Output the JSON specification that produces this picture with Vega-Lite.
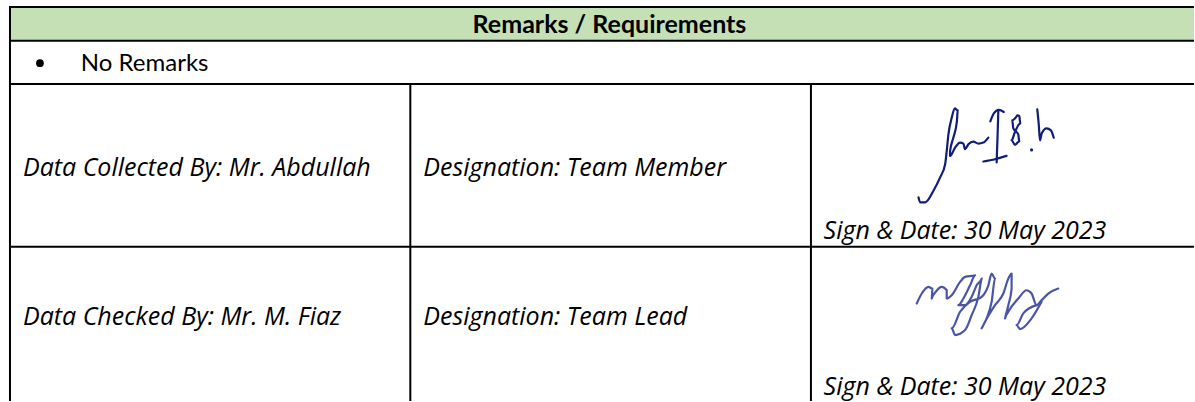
{
  "$schema": "https://vega.github.io/schema/vega-lite/v6.json",
  "width": 1195,
  "height": 402,
  "autosize": {"type": "fit", "contains": "padding"},
  "padding": 0,
  "background": "#ffffff",
  "config": {"view": {"stroke": null}},
  "datasets": {
    "header": [{"x": 10, "x2": 1196, "y": 7, "y2": 41}],
    "borders": [
      {"x": 9, "x2": 1196, "y": 7, "y2": 7},
      {"x": 9, "x2": 1196, "y": 41, "y2": 41},
      {"x": 9, "x2": 1196, "y": 84.3, "y2": 84.3},
      {"x": 9, "x2": 1196, "y": 248, "y2": 248},
      {"x": 10, "x2": 10, "y": 6, "y2": 403},
      {"x": 411, "x2": 411, "y": 84.3, "y2": 403},
      {"x": 812.3, "x2": 812.3, "y": 84.3, "y2": 403}
    ],
    "title": [{"x": 610.5, "y": 33.3, "label": "Remarks / Requirements"}],
    "bullets": [{"x": 40, "y": 63.5}],
    "plain": [{"x": 81, "y": 71.7, "label": "No Remarks"}],
    "italic": [
      {"x": 23, "y": 176.7, "label": "Data Collected By: Mr. Abdullah"},
      {"x": 424, "y": 176.7, "label": "Designation: Team Member"},
      {"x": 825, "y": 240, "label": "Sign & Date: 30 May 2023"},
      {"x": 23, "y": 326.7, "label": "Data Checked By: Mr. M. Fiaz"},
      {"x": 424, "y": 326.7, "label": "Designation: Team Lead"},
      {"x": 825, "y": 397.3, "label": "Sign & Date: 30 May 2023"}
    ],
    "signatures": [
      {"sig": "Abdullah", "stroke": "a1", "o": 1, "x": 920, "y": 198.3},
      {"sig": "Abdullah", "stroke": "a1", "o": 2, "x": 921.7, "y": 203.3},
      {"sig": "Abdullah", "stroke": "a1", "o": 3, "x": 926.7, "y": 203.3},
      {"sig": "Abdullah", "stroke": "a1", "o": 4, "x": 935, "y": 191.7},
      {"sig": "Abdullah", "stroke": "a1", "o": 5, "x": 941.7, "y": 178.3},
      {"sig": "Abdullah", "stroke": "a1", "o": 6, "x": 946.7, "y": 165},
      {"sig": "Abdullah", "stroke": "a1", "o": 7, "x": 948.3, "y": 151.7},
      {"sig": "Abdullah", "stroke": "a1", "o": 8, "x": 950, "y": 135},
      {"sig": "Abdullah", "stroke": "a1", "o": 9, "x": 953.3, "y": 118.3},
      {"sig": "Abdullah", "stroke": "a1", "o": 10, "x": 956.5, "y": 109},
      {"sig": "Abdullah", "stroke": "a1", "o": 11, "x": 959.3, "y": 111},
      {"sig": "Abdullah", "stroke": "a1", "o": 12, "x": 958.5, "y": 122},
      {"sig": "Abdullah", "stroke": "a1", "o": 13, "x": 955, "y": 138.3},
      {"sig": "Abdullah", "stroke": "a1", "o": 14, "x": 951.7, "y": 151.7},
      {"sig": "Abdullah", "stroke": "a1", "o": 15, "x": 951.7, "y": 156.7},
      {"sig": "Abdullah", "stroke": "a1", "o": 16, "x": 956.7, "y": 148.3},
      {"sig": "Abdullah", "stroke": "a1", "o": 17, "x": 961.7, "y": 143.3},
      {"sig": "Abdullah", "stroke": "a1", "o": 18, "x": 965, "y": 144.3},
      {"sig": "Abdullah", "stroke": "a1", "o": 19, "x": 966.7, "y": 150},
      {"sig": "Abdullah", "stroke": "a1", "o": 20, "x": 970, "y": 145},
      {"sig": "Abdullah", "stroke": "a1", "o": 21, "x": 975, "y": 142.3},
      {"sig": "Abdullah", "stroke": "a1", "o": 22, "x": 980, "y": 144.3},
      {"sig": "Abdullah", "stroke": "a1", "o": 23, "x": 985, "y": 143.3},
      {"sig": "Abdullah", "stroke": "a1", "o": 24, "x": 990, "y": 138.3},
      {"sig": "Abdullah", "stroke": "a2", "o": 1, "x": 992, "y": 122},
      {"sig": "Abdullah", "stroke": "a2", "o": 2, "x": 995.5, "y": 114},
      {"sig": "Abdullah", "stroke": "a2", "o": 3, "x": 1000.5, "y": 110.5},
      {"sig": "Abdullah", "stroke": "a2", "o": 4, "x": 1005.5, "y": 112.5},
      {"sig": "Abdullah", "stroke": "a3", "o": 1, "x": 1000, "y": 111},
      {"sig": "Abdullah", "stroke": "a3", "o": 2, "x": 999.3, "y": 135},
      {"sig": "Abdullah", "stroke": "a3", "o": 3, "x": 998.3, "y": 163.3},
      {"sig": "Abdullah", "stroke": "a4", "o": 1, "x": 985, "y": 162.3},
      {"sig": "Abdullah", "stroke": "a4", "o": 2, "x": 996.7, "y": 160},
      {"sig": "Abdullah", "stroke": "a4", "o": 3, "x": 1008.3, "y": 156.7},
      {"sig": "Abdullah", "stroke": "a5", "o": 1, "x": 1019, "y": 116},
      {"sig": "Abdullah", "stroke": "a5", "o": 2, "x": 1014, "y": 121},
      {"sig": "Abdullah", "stroke": "a5", "o": 3, "x": 1015, "y": 129},
      {"sig": "Abdullah", "stroke": "a5", "o": 4, "x": 1020, "y": 135},
      {"sig": "Abdullah", "stroke": "a5", "o": 5, "x": 1021, "y": 142},
      {"sig": "Abdullah", "stroke": "a5", "o": 6, "x": 1016.7, "y": 145.5},
      {"sig": "Abdullah", "stroke": "a5", "o": 7, "x": 1013.3, "y": 141},
      {"sig": "Abdullah", "stroke": "a5", "o": 8, "x": 1016.5, "y": 133},
      {"sig": "Abdullah", "stroke": "a5", "o": 9, "x": 1022, "y": 124},
      {"sig": "Abdullah", "stroke": "a5", "o": 10, "x": 1021, "y": 116.5},
      {"sig": "Abdullah", "stroke": "a5", "o": 11, "x": 1019, "y": 116},
      {"sig": "Abdullah", "stroke": "a6", "o": 1, "x": 1039, "y": 110},
      {"sig": "Abdullah", "stroke": "a6", "o": 2, "x": 1040.5, "y": 125},
      {"sig": "Abdullah", "stroke": "a6", "o": 3, "x": 1041.7, "y": 141},
      {"sig": "Abdullah", "stroke": "a6", "o": 4, "x": 1043.5, "y": 134},
      {"sig": "Abdullah", "stroke": "a6", "o": 5, "x": 1048.3, "y": 129},
      {"sig": "Abdullah", "stroke": "a6", "o": 6, "x": 1052.7, "y": 131},
      {"sig": "Abdullah", "stroke": "a6", "o": 7, "x": 1055.5, "y": 138.5},
      {"sig": "Fiaz", "stroke": "f1", "o": 1, "x": 918.3, "y": 305},
      {"sig": "Fiaz", "stroke": "f1", "o": 2, "x": 923.3, "y": 295},
      {"sig": "Fiaz", "stroke": "f1", "o": 3, "x": 930, "y": 288.3},
      {"sig": "Fiaz", "stroke": "f1", "o": 4, "x": 934, "y": 290},
      {"sig": "Fiaz", "stroke": "f1", "o": 5, "x": 933.3, "y": 300},
      {"sig": "Fiaz", "stroke": "f1", "o": 6, "x": 937.3, "y": 293.3},
      {"sig": "Fiaz", "stroke": "f1", "o": 7, "x": 943.3, "y": 288.3},
      {"sig": "Fiaz", "stroke": "f1", "o": 8, "x": 948.3, "y": 291.7},
      {"sig": "Fiaz", "stroke": "f1", "o": 9, "x": 948.3, "y": 300},
      {"sig": "Fiaz", "stroke": "f1", "o": 10, "x": 953.3, "y": 296.7},
      {"sig": "Fiaz", "stroke": "f1", "o": 11, "x": 961.7, "y": 283.3},
      {"sig": "Fiaz", "stroke": "f1", "o": 12, "x": 966.7, "y": 278.3},
      {"sig": "Fiaz", "stroke": "f1", "o": 13, "x": 976.7, "y": 276.7},
      {"sig": "Fiaz", "stroke": "f1", "o": 14, "x": 971.7, "y": 286.7},
      {"sig": "Fiaz", "stroke": "f1", "o": 15, "x": 965, "y": 300},
      {"sig": "Fiaz", "stroke": "f1", "o": 16, "x": 960, "y": 306.7},
      {"sig": "Fiaz", "stroke": "f1", "o": 17, "x": 966.7, "y": 306.7},
      {"sig": "Fiaz", "stroke": "f1", "o": 18, "x": 973.3, "y": 298.3},
      {"sig": "Fiaz", "stroke": "f1", "o": 19, "x": 978.3, "y": 286.7},
      {"sig": "Fiaz", "stroke": "f1", "o": 20, "x": 983.3, "y": 280},
      {"sig": "Fiaz", "stroke": "f1", "o": 21, "x": 980, "y": 298.3},
      {"sig": "Fiaz", "stroke": "f1", "o": 22, "x": 973.3, "y": 316.7},
      {"sig": "Fiaz", "stroke": "f1", "o": 23, "x": 966.7, "y": 331.7},
      {"sig": "Fiaz", "stroke": "f1", "o": 24, "x": 956.7, "y": 336.7},
      {"sig": "Fiaz", "stroke": "f1", "o": 25, "x": 953.3, "y": 330},
      {"sig": "Fiaz", "stroke": "f1", "o": 26, "x": 961.7, "y": 313.3},
      {"sig": "Fiaz", "stroke": "f1", "o": 27, "x": 971.7, "y": 303.3},
      {"sig": "Fiaz", "stroke": "f1", "o": 28, "x": 983.3, "y": 298.3},
      {"sig": "Fiaz", "stroke": "f1", "o": 29, "x": 990, "y": 286.7},
      {"sig": "Fiaz", "stroke": "f1", "o": 30, "x": 993.3, "y": 275},
      {"sig": "Fiaz", "stroke": "f1", "o": 31, "x": 996.7, "y": 280},
      {"sig": "Fiaz", "stroke": "f1", "o": 32, "x": 993.3, "y": 303.3},
      {"sig": "Fiaz", "stroke": "f1", "o": 33, "x": 988.3, "y": 320},
      {"sig": "Fiaz", "stroke": "f1", "o": 34, "x": 983.3, "y": 330},
      {"sig": "Fiaz", "stroke": "f1", "o": 35, "x": 986.7, "y": 323.3},
      {"sig": "Fiaz", "stroke": "f1", "o": 36, "x": 996.7, "y": 306.7},
      {"sig": "Fiaz", "stroke": "f1", "o": 37, "x": 1005, "y": 295},
      {"sig": "Fiaz", "stroke": "f1", "o": 38, "x": 1010, "y": 280},
      {"sig": "Fiaz", "stroke": "f1", "o": 39, "x": 1013.3, "y": 275},
      {"sig": "Fiaz", "stroke": "f1", "o": 40, "x": 1013.3, "y": 290},
      {"sig": "Fiaz", "stroke": "f1", "o": 41, "x": 1010, "y": 306.7},
      {"sig": "Fiaz", "stroke": "f1", "o": 42, "x": 1006.7, "y": 320},
      {"sig": "Fiaz", "stroke": "f1", "o": 43, "x": 1010, "y": 313.3},
      {"sig": "Fiaz", "stroke": "f1", "o": 44, "x": 1020, "y": 300},
      {"sig": "Fiaz", "stroke": "f1", "o": 45, "x": 1028.3, "y": 291.7},
      {"sig": "Fiaz", "stroke": "f1", "o": 46, "x": 1033.3, "y": 295},
      {"sig": "Fiaz", "stroke": "f1", "o": 47, "x": 1038.3, "y": 306.7},
      {"sig": "Fiaz", "stroke": "f1", "o": 48, "x": 1043.3, "y": 301.7},
      {"sig": "Fiaz", "stroke": "f1", "o": 49, "x": 1050, "y": 295},
      {"sig": "Fiaz", "stroke": "f1", "o": 50, "x": 1060, "y": 290},
      {"sig": "Fiaz", "stroke": "f2", "o": 1, "x": 1043.3, "y": 303.3},
      {"sig": "Fiaz", "stroke": "f2", "o": 2, "x": 1033.3, "y": 320},
      {"sig": "Fiaz", "stroke": "f2", "o": 3, "x": 1021.7, "y": 330.7},
      {"sig": "Fiaz", "stroke": "f2", "o": 4, "x": 1018.3, "y": 326.7},
      {"sig": "Fiaz", "stroke": "f2", "o": 5, "x": 1025, "y": 315},
      {"sig": "Fiaz", "stroke": "f2", "o": 6, "x": 1038.3, "y": 306.7}
    ],
    "sigdots": [{"sig": "Abdullah", "x": 1033.3, "y": 150.7}]
  },
  "layer": [
    {
      "data": {"name": "header"},
      "mark": {"type": "rect", "fill": "#c5e0b4"},
      "encoding": {
        "x": {"field": "x", "type": "quantitative", "scale": {"domain": [0, 1195], "nice": false, "zero": false}, "axis": null},
        "x2": {"field": "x2"},
        "y": {"field": "y", "type": "quantitative", "scale": {"domain": [0, 402], "nice": false, "zero": false, "reverse": true}, "axis": null},
        "y2": {"field": "y2"}
      }
    },
    {
      "data": {"name": "signatures"},
      "mark": {"type": "line", "interpolate": "monotone", "strokeWidth": 2.2, "strokeCap": "round", "strokeJoin": "round"},
      "encoding": {
        "x": {"field": "x", "type": "quantitative", "axis": null},
        "y": {"field": "y", "type": "quantitative", "axis": null},
        "detail": {"field": "stroke"},
        "order": {"field": "o", "type": "quantitative"},
        "color": {"field": "sig", "type": "nominal", "scale": {"domain": ["Abdullah", "Fiaz"], "range": ["#101d7a", "#4a55a8"]}, "legend": null}
      }
    },
    {
      "data": {"name": "sigdots"},
      "mark": {"type": "point", "filled": true, "size": 10, "opacity": 1},
      "encoding": {
        "x": {"field": "x", "type": "quantitative", "axis": null},
        "y": {"field": "y", "type": "quantitative", "axis": null},
        "color": {"field": "sig", "type": "nominal", "legend": null}
      }
    },
    {
      "data": {"name": "borders"},
      "mark": {"type": "rule", "color": "#000000", "strokeWidth": 2},
      "encoding": {
        "x": {"field": "x", "type": "quantitative", "axis": null},
        "x2": {"field": "x2"},
        "y": {"field": "y", "type": "quantitative", "axis": null},
        "y2": {"field": "y2"}
      }
    },
    {
      "data": {"name": "title"},
      "mark": {"type": "text", "font": "Lato", "fontSize": 25, "fontWeight": "bold", "align": "center", "baseline": "alphabetic", "color": "#000000"},
      "encoding": {
        "x": {"field": "x", "type": "quantitative", "axis": null},
        "y": {"field": "y", "type": "quantitative", "axis": null},
        "text": {"field": "label"}
      }
    },
    {
      "data": {"name": "bullets"},
      "mark": {"type": "point", "shape": "circle", "filled": true, "size": 60, "color": "#000000", "opacity": 1},
      "encoding": {
        "x": {"field": "x", "type": "quantitative", "axis": null},
        "y": {"field": "y", "type": "quantitative", "axis": null}
      }
    },
    {
      "data": {"name": "plain"},
      "mark": {"type": "text", "font": "Lato", "fontSize": 24, "align": "left", "baseline": "alphabetic", "color": "#000000"},
      "encoding": {
        "x": {"field": "x", "type": "quantitative", "axis": null},
        "y": {"field": "y", "type": "quantitative", "axis": null},
        "text": {"field": "label"}
      }
    },
    {
      "data": {"name": "italic"},
      "mark": {"type": "text", "font": "Open Sans", "fontSize": 25, "fontStyle": "italic", "align": "left", "baseline": "alphabetic", "color": "#000000"},
      "encoding": {
        "x": {"field": "x", "type": "quantitative", "axis": null},
        "y": {"field": "y", "type": "quantitative", "axis": null},
        "text": {"field": "label"}
      }
    }
  ]
}
